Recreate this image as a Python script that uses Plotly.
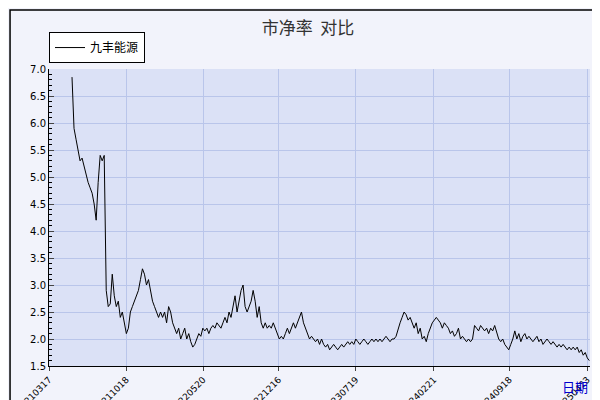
import plotly.graph_objects as go
import pandas as pd

start_date = "2021-05-20"
end_date = "2025-04-28"
values = [6.85,5.9,5.7,5.5,5.3,5.35,5.2,5.0,4.9,4.8,4.7,4.5,4.2,4.9,5.4,5.3,5.4,2.9,2.6,2.65,3.2,2.8,
          2.6,2.7,2.4,2.5,2.3,2.1,2.2,2.5,2.6,2.7,2.8,2.9,3.1,3.3,3.2,3.0,3.1,2.9,2.7,2.6,2.5,2.4,
          2.5,2.4,2.5,2.3,2.6,2.5,2.3,2.2,2.1,2.2,2.0,2.1,2.2,2.0,2.1,1.95,1.85,1.9,2.0,2.1,2.05,2.2,
          2.15,2.2,2.1,2.2,2.25,2.2,2.3,2.25,2.2,2.3,2.4,2.3,2.5,2.4,2.6,2.8,2.5,2.7,2.9,3.0,2.6,2.5,
          2.6,2.7,2.9,2.7,2.4,2.6,2.3,2.2,2.3,2.2,2.25,2.2,2.3,2.2,2.1,2.0,2.05,2.0,2.1,2.2,2.1,2.2,
          2.3,2.2,2.3,2.4,2.5,2.3,2.2,2.1,2.0,2.05,2.0,1.95,2.0,1.9,2.0,1.9,1.85,1.9,1.8,1.85,1.9,
          1.85,1.8,1.85,1.9,1.85,1.9,1.95,1.9,1.95,1.9,2.0,1.95,1.9,1.95,2.0,1.95,1.9,1.95,2.0,1.95,
          2.0,1.95,2.0,1.95,2.0,2.05,2.0,1.95,2.0,2.0,2.05,2.2,2.3,2.4,2.5,2.45,2.35,2.4,2.3,2.2,2.3,
          2.1,2.2,2.0,2.05,1.95,2.1,2.2,2.3,2.35,2.4,2.35,2.3,2.2,2.3,2.25,2.2,2.1,2.15,2.05,2.1,2.2,
          2.0,2.05,2.0,1.95,2.0,1.95,2.0,2.25,2.2,2.15,2.25,2.2,2.15,2.2,2.1,2.2,2.15,2.25,2.1,2.0,
          1.95,2.0,1.9,1.85,1.8,1.9,2.0,2.15,2.0,2.1,1.95,2.05,2.1,2.0,2.05,2.0,1.95,2.0,2.05,1.95,
          2.0,1.9,1.95,2.0,1.95,1.9,1.95,1.9,1.85,1.9,1.85,1.9,1.85,1.8,1.85,1.8,1.85,1.8,1.85,1.75,
          1.8,1.7,1.75,1.65,1.6]
dates = pd.date_range(start_date, end_date, periods=len(values))

tick_dates = ["2021-03-17","2021-10-18","2022-05-20","2022-12-16","2023-07-19","2024-02-21","2024-09-18","2025-04-23"]
tick_text = ["20210317","20211018","20220520","20221216","20230719","20240221","20240918","20250423"]
series_name = "九丰能源"

fig = go.Figure(go.Scatter(x=dates, y=values, mode="lines", name=series_name,
                           line=dict(color="black", width=1)))
font = "Noto Sans CJK SC"
fig.update_layout(
    width=600, height=400, margin=dict(l=41, r=18, t=61, b=42),
    paper_bgcolor="#f2f3fb", plot_bgcolor="#dbe1f6",
    font=dict(family=font, size=11, color="black"),
    title=dict(text="市净率  对比", x=0.5, y=0.965, xanchor="center", font=dict(size=17, color="#333")),
    showlegend=True,
    legend=dict(x=0.0, y=1.02, xanchor="left", yanchor="bottom", xref="paper", yref="paper",
                bgcolor="white", bordercolor="black", borderwidth=1, font=dict(size=12),
                itemwidth=30),
    xaxis=dict(range=["2021-03-17","2025-04-30"], tickvals=tick_dates, ticktext=tick_text,
               tickangle=-45, gridcolor="#b9c5ea", showline=True, linecolor="black",
               ticks="outside", ticklen=4, tickfont=dict(family="DejaVu Sans", size=9),
               zeroline=False, automargin=False),
    yaxis=dict(range=[1.5,7.0], dtick=0.5, tickformat=".1f", gridcolor="#b9c5ea",
               showline=True, linecolor="black", ticks="inside", ticklen=5,
               minor=dict(dtick=0.1, ticks="inside", ticklen=3, tickcolor="black"),
               tickfont=dict(family="DejaVu Sans", size=10), zeroline=False, automargin=False),
    shapes=[dict(type="rect", xref="paper", yref="paper", x0=-0.072, x1=1.028, y0=-0.125, y1=1.199,
                 line=dict(color="black", width=1.5))],
    annotations=[dict(text="日期", xref="paper", yref="paper", x=1.0, y=-0.03, xanchor="right",
                      yanchor="top", showarrow=False, font=dict(color="#0000cc", size=13))],
)
fig.write_html("out.html")
